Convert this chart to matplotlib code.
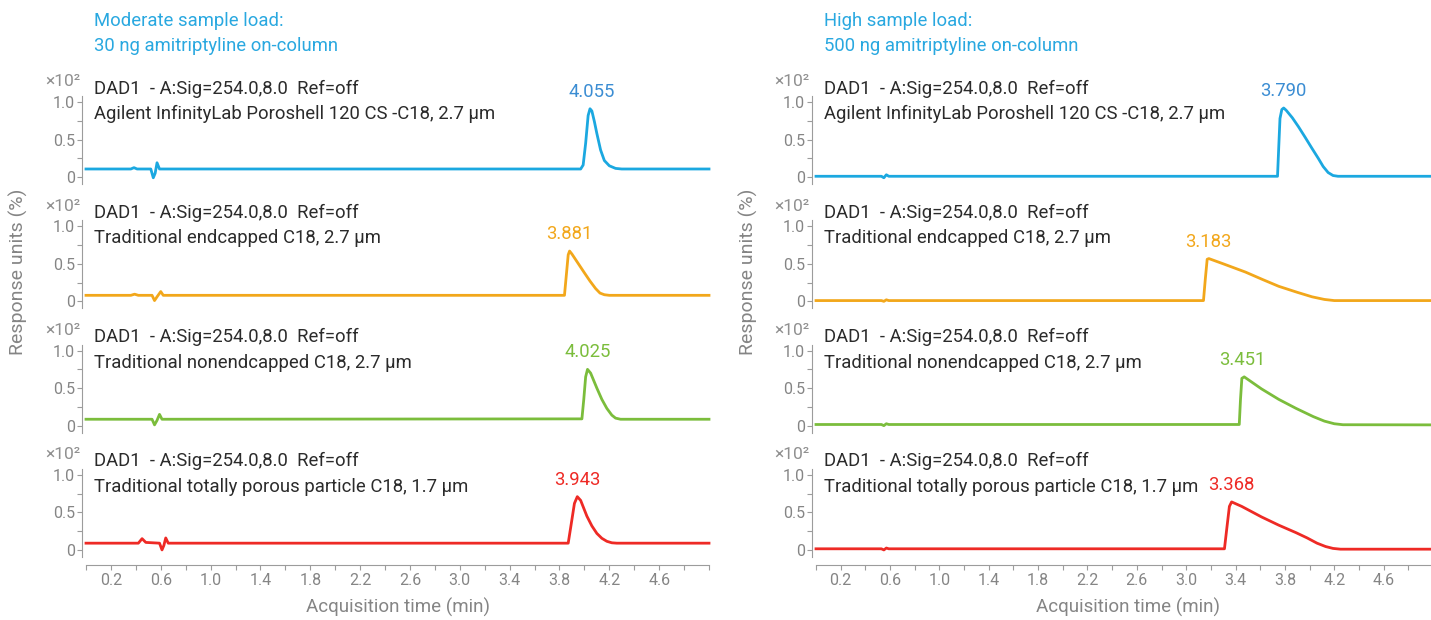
import matplotlib.pyplot as plt
from matplotlib.ticker import FixedLocator, FixedFormatter

plt.rcParams['font.family'] = ['Roboto', 'DejaVu Sans']

panel_titles = [("Moderate sample load:", "30 ng amitriptyline on-column"),
                ("High sample load:", "500 ng amitriptyline on-column")]
signal_text = "DAD1  - A:Sig=254.0,8.0  Ref=off"
column_names = ["Agilent InfinityLab Poroshell 120 CS -C18, 2.7 µm",
                "Traditional endcapped C18, 2.7 µm",
                "Traditional nonendcapped C18, 2.7 µm",
                "Traditional totally porous particle C18, 1.7 µm"]
trace_colors = ['#1ba8e0', '#f2a71b', '#7bbd3c', '#ee2a25']
label_colors = ['#3b8dd3', '#f2a71b', '#7bbd3c', '#ee2a25']

x_major = [0.2, 0.6, 1.0, 1.4, 1.8, 2.2, 2.6, 3.0, 3.4, 3.8, 4.2, 4.6]
x_labels = ['0.2', '0.6', '1.0', '1.4', '1.8', '2.2', '2.6', '3.0', '3.4', '3.8', '4.2', '4.6']
x_minor = [0.0, 0.4, 0.8, 1.2, 1.6, 2.0, 2.4, 2.8, 3.2, 3.6, 4.0, 4.4, 4.8, 5.0]

# moderate load (30 ng), values x10^2
mod_rt = [4.055, 3.881, 4.025, 3.943]
mod_blue_t = [0.0, 0.36, 0.385, 0.41, 0.52, 0.54, 0.555, 0.57, 0.59,
              3.97, 3.99, 4.01, 4.03, 4.045, 4.06, 4.08, 4.10, 4.13, 4.16, 4.20, 4.25, 4.30, 5.0]
mod_blue_y = [0.107, 0.107, 0.125, 0.107, 0.107, -0.01, 0.05, 0.19, 0.107,
              0.107, 0.16, 0.45, 0.82, 0.91, 0.88, 0.74, 0.58, 0.36, 0.22, 0.15, 0.115, 0.107, 0.107]
mod_orange_t = [0.0, 0.36, 0.39, 0.42, 0.53, 0.55, 0.57, 0.60, 0.62,
                3.84, 3.855, 3.87, 3.881, 3.90, 3.96, 4.00, 4.045, 4.09, 4.125, 4.16, 4.20, 5.0]
mod_orange_y = [0.08, 0.08, 0.095, 0.08, 0.08, 0.01, 0.06, 0.13, 0.08,
                0.08, 0.35, 0.62, 0.67, 0.63, 0.48, 0.38, 0.27, 0.17, 0.11, 0.088, 0.08, 0.08]
mod_green_t = [0.0, 0.53, 0.55, 0.57, 0.59, 0.61,
               3.98, 3.995, 4.01, 4.025, 4.05, 4.10, 4.14, 4.18, 4.22, 4.25, 4.29, 5.0]
mod_green_y = [0.085, 0.085, 0.01, 0.07, 0.15, 0.085,
               0.09, 0.35, 0.65, 0.75, 0.70, 0.50, 0.35, 0.23, 0.14, 0.10, 0.085, 0.085]
mod_red_t = [0.0, 0.42, 0.45, 0.48, 0.59, 0.61, 0.625, 0.64, 0.66,
             3.87, 3.89, 3.92, 3.943, 3.97, 4.02, 4.06, 4.10, 4.14, 4.18, 4.22, 4.26, 5.0]
mod_red_y = [0.09, 0.09, 0.15, 0.10, 0.09, 0.0, 0.06, 0.16, 0.09,
             0.09, 0.30, 0.62, 0.71, 0.66, 0.45, 0.32, 0.22, 0.155, 0.115, 0.095, 0.09, 0.09]

# high load (500 ng)
high_rt = [3.790, 3.183, 3.451, 3.368]
high_blue_t = [0.0, 0.53, 0.55, 0.57, 0.59,
               3.74, 3.75, 3.76, 3.775, 3.79, 3.81, 3.86, 3.91, 3.96, 4.02, 4.07, 4.11, 4.15, 4.19, 4.23, 5.0]
high_blue_y = [0.01, 0.01, -0.01, 0.03, 0.01,
               0.01, 0.40, 0.78, 0.90, 0.92, 0.89, 0.79, 0.67, 0.54, 0.38, 0.25, 0.14, 0.06, 0.02, 0.01, 0.01]
high_orange_t = [0.0, 0.53, 0.55, 0.57, 0.59,
                 3.14, 3.155, 3.17, 3.183, 3.30, 3.48, 3.62, 3.75, 3.90, 4.02, 4.12, 4.20, 5.0]
high_orange_y = [0.01, 0.01, 0.0, 0.02, 0.01,
                 0.01, 0.30, 0.56, 0.57, 0.50, 0.39, 0.29, 0.20, 0.12, 0.06, 0.025, 0.01, 0.01]
high_green_t = [0.0, 0.53, 0.55, 0.57, 0.59,
                3.43, 3.44, 3.451, 3.47, 3.61, 3.75, 3.89, 4.03, 4.12, 4.20, 4.27, 5.0]
high_green_y = [0.015, 0.015, 0.0, 0.025, 0.015,
                0.015, 0.35, 0.63, 0.65, 0.49, 0.35, 0.23, 0.12, 0.06, 0.025, 0.012, 0.01]
high_red_t = [0.0, 0.53, 0.55, 0.57, 0.59,
              3.31, 3.33, 3.35, 3.368, 3.45, 3.61, 3.75, 3.89, 3.98, 4.06, 4.13, 4.19, 4.25, 5.0]
high_red_y = [0.015, 0.015, 0.0, 0.025, 0.015,
              0.015, 0.30, 0.58, 0.64, 0.58, 0.44, 0.33, 0.23, 0.16, 0.09, 0.045, 0.02, 0.01, 0.01]

panels = [
    (mod_rt, [(mod_blue_t, mod_blue_y), (mod_orange_t, mod_orange_y),
              (mod_green_t, mod_green_y), (mod_red_t, mod_red_y)]),
    (high_rt, [(high_blue_t, high_blue_y), (high_orange_t, high_orange_y),
               (high_green_t, high_green_y), (high_red_t, high_red_y)]),
]

W, H = 1431, 620
fig = plt.figure(figsize=(W / 100, H / 100), dpi=100)

gray = '#858585'
spine_gray = '#9c9c9c'
left_px = [86, 816]
width_px = [623, 617]
ax_h = 88

for p, (rts, traces) in enumerate(panels):
    x0 = left_px[p]
    fig.text((x0 + 8) / W, 1 - 21 / H, panel_titles[p][0], color='#29a8e0', fontsize=13.3, va='center')
    fig.text((x0 + 8) / W, 1 - 46 / H, panel_titles[p][1], color='#29a8e0', fontsize=13.3, va='center')
    fig.text((x0 - 68) / W, 1 - 272 / H, 'Response units (%)', color=gray, fontsize=14,
             rotation=90, ha='center', va='center')
    fig.text((x0 + 312) / W, 1 - 607 / H, 'Acquisition time (min)', color=gray, fontsize=13.5,
             ha='center', va='center')

    for k in range(4):
        top = 96 + 124.3 * k
        ax = fig.add_axes([x0 / W, 1 - (top + ax_h) / H, width_px[p] / W, ax_h / H])
        t, y = traces[k]
        ax.plot(t, y, color=trace_colors[k], lw=2.0, solid_joinstyle='round', clip_on=False)
        ax.set_xlim(0, 5.0)
        ax.set_ylim(-0.093, 1.08)
        for s in ['top', 'right']:
            ax.spines[s].set_visible(False)
        ax.spines['left'].set_position(('outward', 3))
        ax.spines['left'].set_color(spine_gray)
        ax.yaxis.set_major_locator(FixedLocator([0, 0.5, 1.0]))
        ax.yaxis.set_major_formatter(FixedFormatter(['0', '0.5', '1.0']))
        ax.yaxis.set_minor_locator(FixedLocator([0.25, 0.75]))
        ax.tick_params(axis='y', which='both', direction='out', length=3.5, width=0.8,
                       color=spine_gray, labelcolor=gray, labelsize=11.5, pad=1.5)
        if k == 3:
            ax.spines['bottom'].set_position(('outward', 6))
            ax.spines['bottom'].set_color(spine_gray)
            ax.xaxis.set_major_locator(FixedLocator(x_major))
            ax.xaxis.set_major_formatter(FixedFormatter(x_labels))
            ax.xaxis.set_minor_locator(FixedLocator(x_minor))
            ax.tick_params(axis='x', which='both', direction='out', length=3.5, width=0.8,
                           color=spine_gray, labelcolor=gray, labelsize=11.5, pad=2)
        else:
            ax.spines['bottom'].set_visible(False)
            ax.tick_params(axis='x', which='both', bottom=False, labelbottom=False)

        ax.annotate('×10²', xy=(0, 1.27), xycoords=ax.get_yaxis_transform(),
                    xytext=(-6, 0), textcoords='offset pixels',
                    ha='right', va='center', color='#909090', fontsize=12.5)
        ax.text(0.065, 1.18, signal_text, color='#2b2b2b', fontsize=13.3, va='center')
        ax.text(0.065, 0.84, column_names[k], color='#2b2b2b', fontsize=13.3, va='center')

        ax.annotate(f'{rts[k]:.3f}', xy=(rts[k], max(y)), xytext=(0, 17),
                    textcoords='offset pixels', ha='center', va='center',
                    color=label_colors[k], fontsize=13.3)

fig.savefig('out.png', dpi=100)
